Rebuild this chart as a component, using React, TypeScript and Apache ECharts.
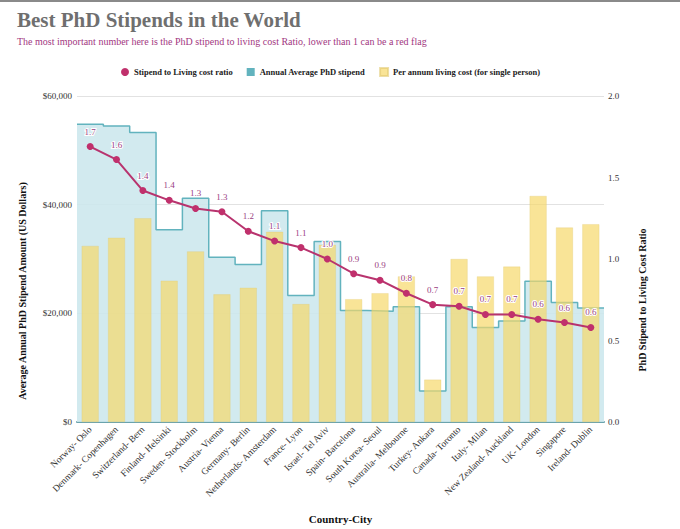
import React, { useEffect, useRef } from "react";
import * as echarts from "echarts";

const categories = [
  "Norway- Oslo",
  "Denmark- Copenhagen",
  "Switzerland- Bern",
  "Finland- Helsinki",
  "Sweden- Stockholm",
  "Austria- Vienna",
  "Germany- Berlin",
  "Netherlands- Amsterdam",
  "France- Lyon",
  "Israel- Tel Aviv",
  "Spain- Barcelona",
  "South Korea- Seoul",
  "Australia- Melbourne",
  "Turkey- Ankara",
  "Canada- Toronto",
  "Italy- Milan",
  "New Zealand- Auckland",
  "UK- London",
  "Singapore",
  "Ireland- Dublin",
];

const stipend = [
  54800, 54500, 53300, 35400, 41200, 30300, 29000, 38900, 23300, 33200,
  20500, 20400, 21200, 5700, 21200, 17400, 18600, 25900, 22000, 21000,
];

const livingCost = [
  32400, 33900, 37500, 26000, 31400, 23500, 24700, 35000, 21700, 32600,
  22600, 23700, 26800, 7800, 30000, 26800, 28600, 41600, 35800, 36400,
];

const ratio = [
  1.69, 1.61, 1.42, 1.36, 1.31, 1.29, 1.17, 1.11, 1.07, 1.0,
  0.91, 0.87, 0.79, 0.72, 0.71, 0.66, 0.66, 0.63, 0.61, 0.58,
];

const leftTicks = { min: 0, max: 60000, interval: 20000 };
const rightTicks = { min: 0, max: 2, interval: 0.5 };

const SERIF = "'Liberation Serif', 'Times New Roman', serif";

export default function App() {
  const ref = useRef<HTMLDivElement>(null);

  useEffect(() => {
    if (!ref.current) return;
    const chart = echarts.init(ref.current, undefined, { renderer: "svg" });

    const stepData: number[][] = [];
    stipend.forEach((v, i) => {
      stepData.push([i, v]);
      stepData.push([i + 1, v]);
    });

    const option: any = {
      animation: false,
      backgroundColor: "#ffffff",
      textStyle: { fontFamily: SERIF },
      title: {
        text: "Best PhD Stipends in the World",
        subtext:
          "The most important number here is the PhD stipend to living cost Ratio, lower than 1 can be a red flag",
        left: 12,
        top: 4,
        itemGap: 6,
        textStyle: {
          fontFamily: SERIF,
          fontWeight: "bold",
          fontSize: 21,
          color: "#6f6f6f",
        },
        subtextStyle: {
          fontFamily: SERIF,
          fontSize: 10,
          color: "#a2377f",
        },
      },
      legend: {
        left: 116,
        top: 62,
        itemWidth: 8,
        itemHeight: 8,
        itemGap: 14,
        textStyle: {
          fontFamily: SERIF,
          fontWeight: "bold",
          fontSize: 8.5,
          color: "#222",
        },
        data: [
          { name: "Stipend to Living cost ratio", icon: "circle" },
          { name: "Annual Average PhD stipend", icon: "rect" },
          { name: "Per annum living cost (for single person)", icon: "rect" },
        ],
      },
      grid: { left: 77, right: 76, top: 96, bottom: 107, containLabel: false },
      xAxis: [
        {
          type: "category",
          data: categories,
          boundaryGap: true,
          name: "Country-City",
          nameLocation: "middle",
          nameGap: 91,
          nameTextStyle: {
            fontFamily: SERIF,
            fontWeight: "bold",
            fontSize: 11,
            color: "#111",
          },
          axisLine: { lineStyle: { color: "#6aa3ad", width: 2 } },
          axisTick: { show: false },
          axisLabel: {
            rotate: 45,
            interval: 0,
            fontFamily: SERIF,
            fontSize: 9.5,
            color: "#333",
            margin: 6,
          },
        },
        {
          type: "value",
          min: 0,
          max: categories.length,
          show: false,
        },
      ],
      yAxis: [
        {
          type: "value",
          min: leftTicks.min,
          max: leftTicks.max,
          interval: leftTicks.interval,
          axisLine: { show: false },
          axisTick: { show: false },
          axisLabel: {
            fontFamily: SERIF,
            fontSize: 9,
            color: "#333",
            margin: 5,
            formatter: (v: number) => "$" + v.toLocaleString("en-US"),
          },
          splitLine: { lineStyle: { color: "#e2e2e2", width: 1.2 } },
        },
        {
          type: "value",
          min: rightTicks.min,
          max: rightTicks.max,
          interval: rightTicks.interval,
          axisLine: { show: false },
          axisTick: { show: false },
          splitLine: { show: false },
          axisLabel: {
            fontFamily: SERIF,
            fontSize: 9,
            color: "#333",
            margin: 4,
            formatter: (v: number) => v.toFixed(1),
          },
        },
      ],
      graphic: [
        {
          type: "rect",
          shape: { x: 0, y: 0, width: 680, height: 2 },
          style: { fill: "#8a8a8a" },
        },
        {
          type: "text",
          x: 22,
          y: 291,
          rotation: Math.PI / 2,
          style: {
            text: "Average Annual PhD Stipend Amount (US Dollars)",
            fontFamily: SERIF,
            fontWeight: "bold",
            fontSize: 10,
            fill: "#111",
            align: "center",
            verticalAlign: "middle",
          },
        },
        {
          type: "text",
          x: 642,
          y: 300,
          rotation: Math.PI / 2,
          style: {
            text: "PhD Stipend to Living Cost Ratio",
            fontFamily: SERIF,
            fontWeight: "bold",
            fontSize: 10,
            fill: "#111",
            align: "center",
            verticalAlign: "middle",
          },
        },
      ],
      series: [
        {
          name: "Annual Average PhD stipend",
          type: "line",
          xAxisIndex: 1,
          yAxisIndex: 0,
          data: stepData,
          symbol: "none",
          itemStyle: { color: "#62b3be" },
          lineStyle: { color: "#62b3be", width: 1.5 },
          areaStyle: { color: "#cde8ed", opacity: 0.9 },
          z: 1,
        },
        {
          name: "Per annum living cost (for single person)",
          type: "bar",
          xAxisIndex: 0,
          yAxisIndex: 0,
          data: livingCost,
          barWidth: 17,
          itemStyle: {
            color: "rgba(246,216,104,0.69)",
            borderColor: "rgba(225,200,110,0.6)",
            borderWidth: 0.5,
          },
          z: 2,
        },
        {
          name: "Stipend to Living cost ratio",
          type: "line",
          xAxisIndex: 0,
          yAxisIndex: 1,
          data: ratio,
          symbol: "circle",
          symbolSize: 7,
          itemStyle: { color: "#c0306c" },
          lineStyle: { color: "#b8336e", width: 2 },
          label: {
            show: true,
            position: "top",
            distance: 7,
            fontFamily: SERIF,
            fontSize: 9,
            color: "#9a3d82",
            textBorderColor: "#ffffff",
            textBorderWidth: 2,
            formatter: (p: any) => Number(p.value).toFixed(1),
          },
          z: 5,
        },
      ],
    };

    chart.setOption(option);
    return () => chart.dispose();
  }, []);

  return (
    <div
      ref={ref}
      style={{ position: "absolute", left: 0, top: 0, width: 680, height: 529 }}
    />
  );
}
